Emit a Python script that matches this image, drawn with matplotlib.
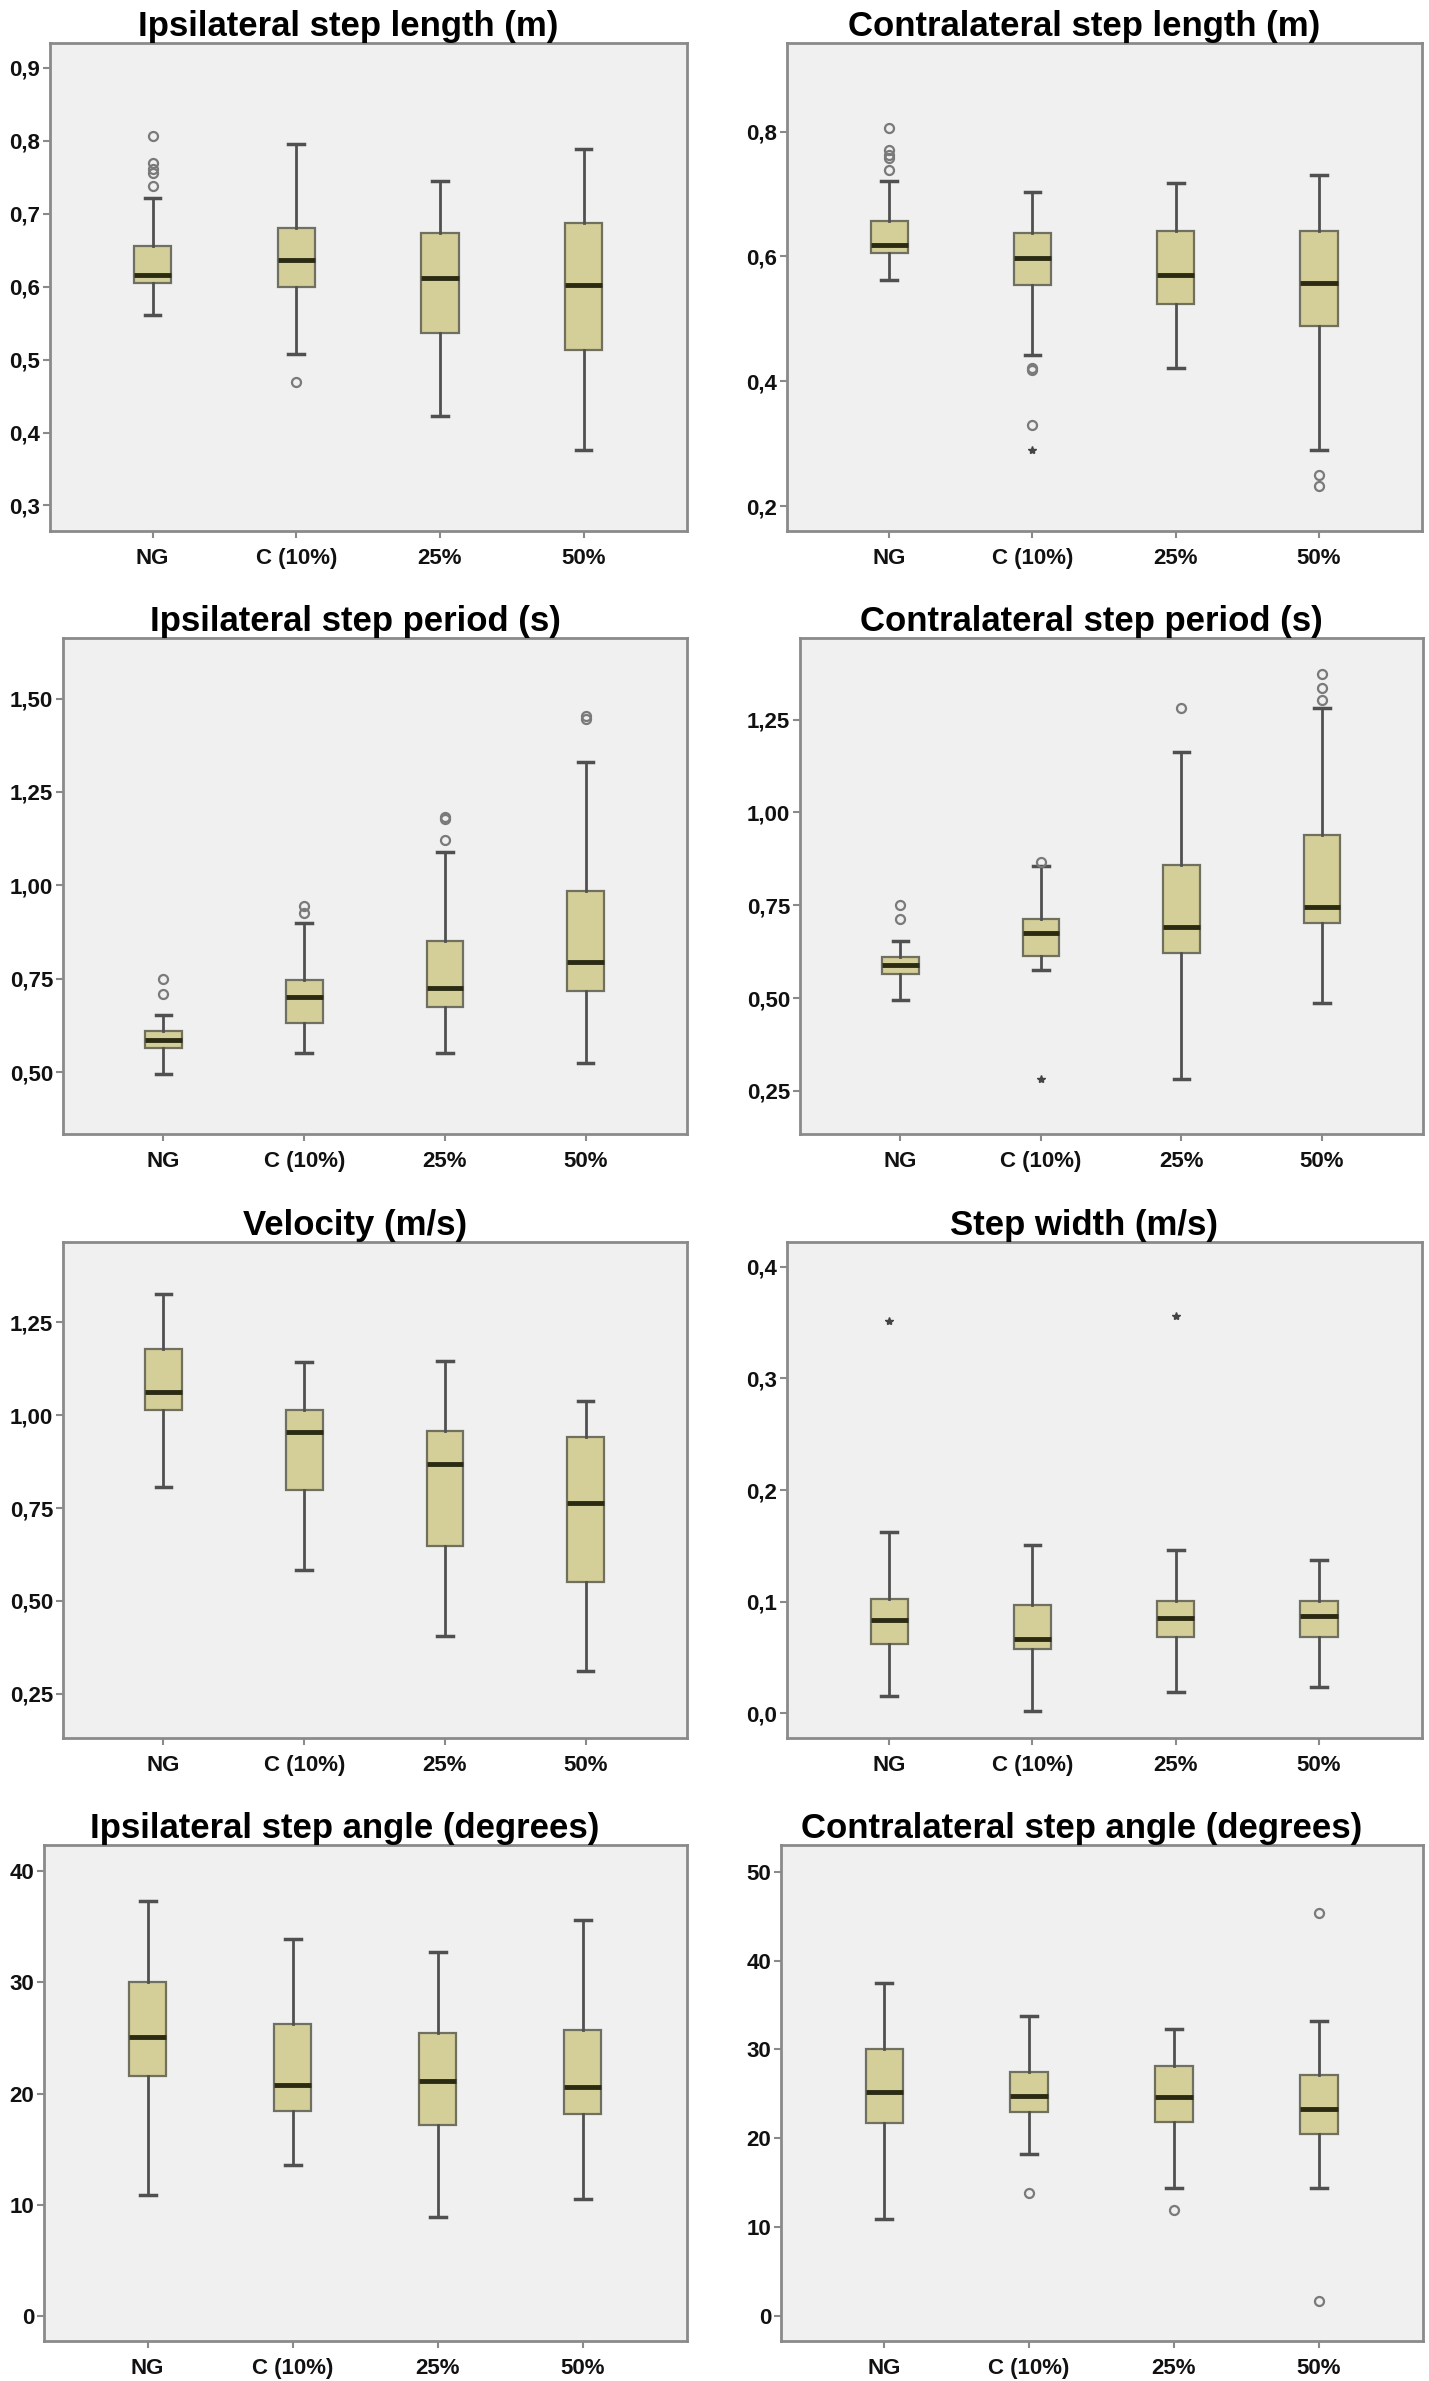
import matplotlib
matplotlib.use("Agg")
import matplotlib.pyplot as plt
from matplotlib.ticker import FuncFormatter

plt.rcParams['font.family'] = ['Liberation Sans', 'DejaVu Sans']

CATEGORIES = ["NG", "C (10%)", "25%", "50%"]

# five-number summaries per group: whisker low, Q1, median, Q3, whisker high
ipsi_len_stats = [[0.561, 0.605, 0.616, 0.656, 0.722],
                  [0.508, 0.599, 0.637, 0.681, 0.795],
                  [0.423, 0.536, 0.612, 0.673, 0.745],
                  [0.376, 0.513, 0.602, 0.687, 0.788]]
ipsi_len_out = [[0.806, 0.770, 0.761, 0.756, 0.738], [0.469], [], []]
ipsi_len_ext = [[], [], [], []]

contra_len_stats = [[0.562, 0.605, 0.618, 0.657, 0.721],
                    [0.442, 0.554, 0.598, 0.638, 0.703],
                    [0.421, 0.523, 0.570, 0.641, 0.718],
                    [0.290, 0.489, 0.557, 0.640, 0.730]]
contra_len_out = [[0.806, 0.770, 0.762, 0.758, 0.739], [0.421, 0.418, 0.330], [], [0.249, 0.232]]
contra_len_ext = [[], [0.290], [], []]

ipsi_per_stats = [[0.495, 0.565, 0.585, 0.611, 0.652],
                  [0.551, 0.631, 0.701, 0.746, 0.898],
                  [0.551, 0.674, 0.726, 0.850, 1.088],
                  [0.524, 0.717, 0.795, 0.985, 1.331]]
ipsi_per_out = [[0.749, 0.710], [0.944, 0.926], [1.183, 1.177, 1.120], [1.452, 1.444]]
ipsi_per_ext = [[], [], [], []]

contra_per_stats = [[0.495, 0.564, 0.588, 0.612, 0.655],
                    [0.575, 0.614, 0.676, 0.714, 0.856],
                    [0.281, 0.622, 0.691, 0.859, 1.163],
                    [0.488, 0.701, 0.746, 0.939, 1.281]]
contra_per_out = [[0.751, 0.712], [0.866], [1.282], [1.372, 1.336, 1.302]]
contra_per_ext = [[], [0.281], [], []]

velocity_stats = [[0.807, 1.013, 1.062, 1.178, 1.325],
                  [0.583, 0.799, 0.954, 1.013, 1.142],
                  [0.405, 0.649, 0.869, 0.956, 1.145],
                  [0.312, 0.552, 0.763, 0.941, 1.039]]
velocity_out = [[], [], [], []]
velocity_ext = [[], [], [], []]

width_stats = [[0.0155, 0.062, 0.084, 0.102, 0.162],
               [0.0025, 0.058, 0.067, 0.097, 0.151],
               [0.019, 0.068, 0.085, 0.101, 0.146],
               [0.024, 0.068, 0.087, 0.101, 0.137]]
width_out = [[], [], [], []]
width_ext = [[0.351], [], [0.356], []]

ipsi_ang_stats = [[10.9, 21.6, 25.1, 30.0, 37.3],
                  [13.6, 18.4, 20.8, 26.2, 33.9],
                  [8.9, 17.2, 21.1, 25.4, 32.7],
                  [10.5, 18.2, 20.6, 25.7, 35.6]]
ipsi_ang_out = [[], [], [], []]
ipsi_ang_ext = [[], [], [], []]

contra_ang_stats = [[10.9, 21.7, 25.2, 30.1, 37.5],
                    [18.2, 23.0, 24.8, 27.5, 33.8],
                    [14.4, 21.8, 24.7, 28.1, 32.3],
                    [14.4, 20.5, 23.3, 27.1, 33.2]]
contra_ang_out = [[], [13.8], [11.9], [45.3, 1.7]]
contra_ang_ext = [[], [], [], []]

BG = "#f0f0f0"
BOX_FILL = "#d4cf99"
BOX_EDGE = "#707060"
MEDIAN = "#2b2b14"
WHISKER = "#505050"
FRAME = "#8a8a8a"

W, H = 1429, 2381


def comma_fmt(decimals):
    return FuncFormatter(lambda v, pos: f"{v:.{decimals}f}".replace(".", ","))


def draw_panel(ax, title, stats, outliers, extremes, ylim, yticks, decimals):
    boxes = []
    for s in stats:
        boxes.append(dict(whislo=s[0], q1=s[1], med=s[2], q3=s[3], whishi=s[4], fliers=[]))
    positions = list(range(len(CATEGORIES)))
    ax.bxp(boxes, positions=positions, widths=0.26, capwidths=0.11,
           patch_artist=True, showfliers=False,
           boxprops=dict(facecolor=BOX_FILL, edgecolor=BOX_EDGE, linewidth=1.6),
           medianprops=dict(color=MEDIAN, linewidth=3.5, solid_capstyle="butt"),
           whiskerprops=dict(color=WHISKER, linewidth=2),
           capprops=dict(color=WHISKER, linewidth=2.5))
    for i, pts in enumerate(outliers):
        ax.plot([i] * len(pts), pts, "o", mfc="none", mec="#7a7a7a", ms=6.5, mew=1.6)
    for i, pts in enumerate(extremes):
        ax.plot([i] * len(pts), pts, "*", color="#444444", ms=6)

    ax.set_facecolor(BG)
    ax.set_xlim(-0.714, 3.72)
    ax.set_ylim(*ylim)
    ax.set_yticks(yticks)
    ax.yaxis.set_major_formatter(comma_fmt(decimals))
    ax.set_xticks(positions)
    ax.set_xticklabels(CATEGORIES)
    ax.tick_params(axis="both", direction="out", length=5, width=1.5, color=FRAME,
                   labelsize=16, labelcolor="#111111", pad=2)
    ax.tick_params(axis="x", pad=7)
    for lab in ax.get_xticklabels() + ax.get_yticklabels():
        lab.set_fontweight("bold")
    for sp in ax.spines.values():
        sp.set_color(FRAME)
        sp.set_linewidth(2)
    ax.set_title(title, fontsize=25, fontweight="bold", x=0.468, pad=5)


fig = plt.figure(figsize=(W / 100, H / 100), dpi=100)

# frame boxes in pixels: left, top, right, bottom
panels = [
    ((50, 43, 687, 531), "Ipsilateral step length (m)", ipsi_len_stats, ipsi_len_out, ipsi_len_ext,
     (0.265, 0.934), [0.3, 0.4, 0.5, 0.6, 0.7, 0.8, 0.9], 1),
    ((787, 43, 1422, 531), "Contralateral step length (m)", contra_len_stats, contra_len_out, contra_len_ext,
     (0.160, 0.942), [0.2, 0.4, 0.6, 0.8], 1),
    ((63, 638, 687, 1134), "Ipsilateral step period (s)", ipsi_per_stats, ipsi_per_out, ipsi_per_ext,
     (0.334, 1.662), [0.5, 0.75, 1.0, 1.25, 1.5], 2),
    ((800, 638, 1423, 1134), "Contralateral step period (s)", contra_per_stats, contra_per_out, contra_per_ext,
     (0.134, 1.470), [0.25, 0.5, 0.75, 1.0, 1.25], 2),
    ((63, 1242, 687, 1738), "Velocity (m/s)", velocity_stats, velocity_out, velocity_ext,
     (0.131, 1.466), [0.25, 0.5, 0.75, 1.0, 1.25], 2),
    ((787, 1242, 1422, 1738), "Step width (m/s)", width_stats, width_out, width_ext,
     (-0.022, 0.422), [0.0, 0.1, 0.2, 0.3, 0.4], 1),
    ((44, 1845, 687, 2341), "Ipsilateral step angle (degrees)", ipsi_ang_stats, ipsi_ang_out, ipsi_ang_ext,
     (-2.2, 42.3), [0, 10, 20, 30, 40], 0),
    ((781, 1845, 1423, 2341), "Contralateral step angle (degrees)", contra_ang_stats, contra_ang_out, contra_ang_ext,
     (-2.8, 53.0), [0, 10, 20, 30, 40, 50], 0),
]

for (l, t, r, b), title, stats, outl, ext, ylim, yticks, dec in panels:
    ax = fig.add_axes([l / W, 1 - b / H, (r - l) / W, (b - t) / H])
    draw_panel(ax, title, stats, outl, ext, ylim, yticks, dec)

fig.savefig("out.png", dpi=100, facecolor="white")
